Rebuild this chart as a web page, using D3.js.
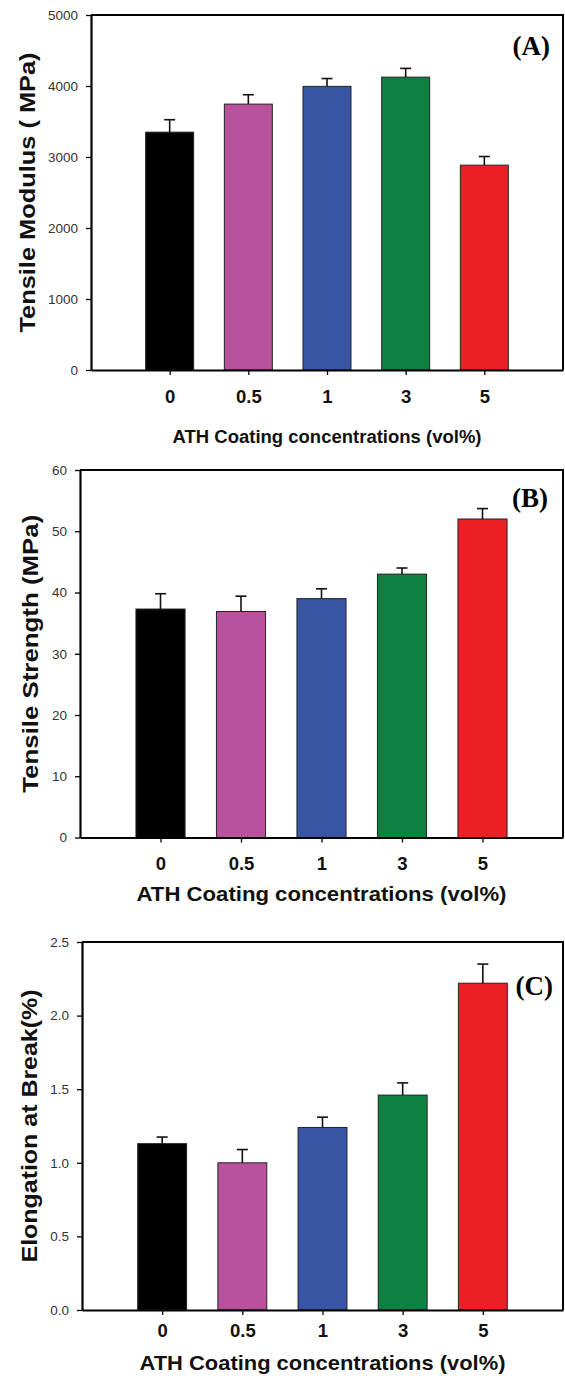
<!DOCTYPE html>
<html lang="en">
<head>
    <meta charset="UTF-8">
    <title>ATH coating - tensile properties</title>
    <script src="https://d3js.org/d3.v7.min.js" charset="utf-8"></script>
    <style>
        body { margin: 0; background: #fff; }
        svg { display: block; }
    </style>
</head>
<body>
<script type="text/javascript">

var w = 565;
var h = 1381;

// ATH coating concentration (vol%)
var categories = ["0", "0.5", "1", "3", "5"];
var barColors = ["#000000", "#b9529d", "#3a54a4", "#0e8140", "#ed1f26"];

// (A) tensile modulus, MPa
var modulus = [3350, 3745, 3995, 4125, 2885];
var modulusErr = [175, 132, 110, 123, 122];

// (B) tensile strength, MPa
var strength = [37.3, 36.9, 39.0, 43.0, 52.0];
var strengthErr = [2.5, 2.5, 1.6, 1.0, 1.7];

// (C) elongation at break, %
var elongation = [1.13, 1.00, 1.24, 1.46, 2.22];
var elongationErr = [0.045, 0.09, 0.07, 0.083, 0.13];

var yTicksA = [0, 1000, 2000, 3000, 4000, 5000];
var yTicksB = [0, 10, 20, 30, 40, 50, 60];
var yTicksC = [0, 0.5, 1.0, 1.5, 2.0, 2.5];

var xTitle = "ATH Coating concentrations (vol%)";

var panels = [
    {tag: "(A)", values: modulus, errs: modulusErr, ticks: yTicksA, fmt: d3.format("d"),
     ytitle: "Tensile Modulus ( MPa)", ytitleLen: 280, left: 91, top: 15, bottom: 370,
     tickPad: 15, xtitleY: 443, xtitleSize: 18, xtitleLen: 309, ytitleX: 27, tagX: 550, tagY: 55},
    {tag: "(B)", values: strength, errs: strengthErr, ticks: yTicksB, fmt: d3.format("d"),
     ytitle: "Tensile Strength (MPa)", ytitleLen: 278, left: 80, top: 470, bottom: 837.5,
     tickPad: 14, xtitleY: 901, xtitleSize: 21, xtitleLen: 370, ytitleX: 30, tagX: 548, tagY: 507},
    {tag: "(C)", values: elongation, errs: elongationErr, ticks: yTicksC, fmt: d3.format(".1f"),
     ytitle: "Elongation at Break(%)", ytitleLen: 273, left: 82, top: 942, bottom: 1310,
     tickPad: 9, xtitleY: 1370, xtitleSize: 21, xtitleLen: 366, ytitleX: 29, tagX: 553, tagY: 995}
];
var right = 563;

var svg = d3.select("body")
    .append("svg")
    .attr("width", w)
    .attr("height", h)
    .style("background", "#fff");

panels.forEach(function(p) {

    var x = d3.scaleLinear()
        .domain([0, categories.length + 1])
        .range([p.left, right]);

    var y = d3.scaleLinear()
        .domain([0, d3.max(p.ticks)])
        .range([p.bottom, p.top]);

    var barW = (x(1) - x(0)) * 0.61;

    var g = svg.append("g");

    // bars
    g.selectAll("rect.bar")
        .data(p.values)
        .enter()
        .append("rect")
        .attr("class", "bar")
        .attr("x", function(d, i) {return x(i + 1) - barW / 2;})
        .attr("y", function(d) {return y(d);})
        .attr("width", barW)
        .attr("height", function(d) {return y(0) - y(d);})
        .attr("fill", function(d, i) {return barColors[i];})
        .attr("stroke", "#222")
        .attr("stroke-width", 1);

    // error bars (upper only)
    var err = g.selectAll("g.err")
        .data(p.values)
        .enter()
        .append("g")
        .attr("class", "err")
        .attr("stroke", "#111")
        .attr("stroke-width", 1.6);

    err.append("line")
        .attr("x1", function(d, i) {return x(i + 1);})
        .attr("x2", function(d, i) {return x(i + 1);})
        .attr("y1", function(d) {return y(d);})
        .attr("y2", function(d, i) {return y(d + p.errs[i]);});

    err.append("line")
        .attr("x1", function(d, i) {return x(i + 1) - 5.5;})
        .attr("x2", function(d, i) {return x(i + 1) + 5.5;})
        .attr("y1", function(d, i) {return y(d + p.errs[i]);})
        .attr("y2", function(d, i) {return y(d + p.errs[i]);});

    // frame top + right
    g.append("path")
        .attr("d", "M" + p.left + "," + p.top + "H" + right + "V" + p.bottom)
        .attr("fill", "none")
        .attr("stroke", "#000")
        .attr("stroke-width", 2);

    // y axis
    var yAxis = g.append("g")
        .attr("transform", "translate(" + p.left + ",0)")
        .call(d3.axisLeft(y).tickValues(p.ticks).tickFormat(p.fmt).tickSize(5).tickSizeOuter(0).tickPadding(8));
    yAxis.select(".domain").attr("stroke-width", 2.2);
    yAxis.selectAll(".tick line").attr("stroke-width", 1.3);
    yAxis.selectAll("text")
        .attr("font-family", "Liberation Sans, Arial, sans-serif")
        .attr("font-size", 13.5)
        .attr("fill", "#333");

    // x axis
    var xAxis = g.append("g")
        .attr("transform", "translate(0," + p.bottom + ")")
        .call(d3.axisBottom(x)
            .tickValues(d3.range(1, categories.length + 1))
            .tickFormat(function(d) {return categories[d - 1];})
            .tickSize(5).tickSizeOuter(0).tickPadding(p.tickPad));
    xAxis.select(".domain").attr("stroke-width", 2.2);
    xAxis.selectAll(".tick line").attr("stroke-width", 1.3);
    xAxis.selectAll("text")
        .attr("font-family", "Liberation Sans, Arial, sans-serif")
        .attr("font-weight", "bold")
        .attr("font-size", 18.5)
        .attr("fill", "#111");

    // axis titles
    g.append("text")
        .text(xTitle)
        .attr("x", (p.left + right) / 2)
        .attr("y", p.xtitleY)
        .attr("text-anchor", "middle")
        .attr("textLength", p.xtitleLen)
        .attr("lengthAdjust", "spacingAndGlyphs")
        .attr("font-family", "Liberation Sans, Arial, sans-serif")
        .attr("font-weight", "bold")
        .attr("font-size", p.xtitleSize)
        .attr("fill", "#111");

    g.append("text")
        .text(p.ytitle)
        .attr("transform", "translate(" + p.ytitleX + "," + (p.top + p.bottom) / 2 + ") rotate(-90)")
        .attr("dy", "0.35em")
        .attr("text-anchor", "middle")
        .attr("textLength", p.ytitleLen)
        .attr("lengthAdjust", "spacingAndGlyphs")
        .attr("font-family", "Liberation Sans, Arial, sans-serif")
        .attr("font-weight", "bold")
        .attr("font-size", 22)
        .attr("fill", "#111");

    // panel tag
    g.append("text")
        .text(p.tag)
        .attr("x", p.tagX)
        .attr("y", p.tagY)
        .attr("text-anchor", "end")
        .attr("font-family", "Liberation Serif, Times New Roman, serif")
        .attr("font-weight", "bold")
        .attr("font-size", 27)
        .attr("fill", "#000");
});

</script>
</body>
</html>
